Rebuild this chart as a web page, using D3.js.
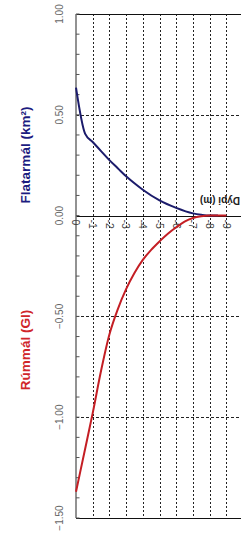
<!DOCTYPE html>
<html><head><meta charset="utf-8">
<script src="https://cdn.jsdelivr.net/npm/d3@7"></script>
<style>body{margin:0;background:#fff}svg{display:block}</style>
</head><body>
<script>
const depths = [0, -0.55, -1, -1.5, -2, -2.5, -3, -3.5, -4, -5, -6, -7, -7.5, -8, -8.5];
const areaVals = [0.635, 0.405, 0.365, 0.32, 0.275, 0.235, 0.195, 0.16, 0.128, 0.075, 0.038, 0.011, 0.004, 0.0, 0.0];
const volDepths = [0, -0.5, -1, -1.5, -2, -2.5, -3, -3.5, -4, -4.5, -5, -5.5, -6, -6.5, -7, -7.5, -8, -9];
const volVals = [-1.37, -1.175, -0.98, -0.77, -0.59, -0.465, -0.365, -0.285, -0.22, -0.17, -0.128, -0.09, -0.058, -0.03, -0.012, -0.003, 0, 0];
const valueTicks = [1, 0.5, 0, -0.5, -1, -1.5];
const depthTicks = [0, -1, -2, -3, -4, -5, -6, -7, -8, -9];
const gridDepths = [-1, -2, -3, -4, -5, -6, -7, -8, -9, -10];
const gridValues = [0.5, -0.5, -1];

const W = 241, H = 538;
const svg = d3.select("body").append("svg").attr("width", W).attr("height", H);
const x = d3.scaleLinear().domain([0, -10]).range([76, 243]);
const y = d3.scaleLinear().domain([1, -1.5]).range([14, 518]);
const x0 = x(0), xEnd = W + 5;
const FONT = "Liberation Sans, Arial, sans-serif";

// vertical dashed grid
svg.append("g").selectAll("line").data(gridDepths).join("line")
  .attr("x1", d => Math.round(x(d)) + 0.5).attr("x2", d => Math.round(x(d)) + 0.5)
  .attr("y1", y(1)).attr("y2", y(-1.5))
  .attr("stroke", "#222").attr("stroke-width", 1).attr("stroke-dasharray", "2,2");
// horizontal dashed grid
svg.append("g").selectAll("line").data(gridValues).join("line")
  .attr("x1", x0).attr("x2", xEnd)
  .attr("y1", d => Math.round(y(d)) + 0.5).attr("y2", d => Math.round(y(d)) + 0.5)
  .attr("stroke", "#222").attr("stroke-width", 1).attr("stroke-dasharray", "3,2");
// top, bottom borders and zero line
[1, -1.5, 0].forEach(v => {
  svg.append("line").attr("x1", x0).attr("x2", xEnd)
    .attr("y1", Math.round(y(v)) + 0.5).attr("y2", Math.round(y(v)) + 0.5)
    .attr("stroke", "#111").attr("stroke-width", 1.2);
});
// left spine
svg.append("line").attr("x1", x0).attr("x2", x0).attr("y1", y(1)).attr("y2", y(-1.5))
  .attr("stroke", "#777").attr("stroke-width", 1.6);
// minor ticks
svg.append("g").selectAll("line").data(d3.range(-15, 11).map(i => i / 10)).join("line")
  .attr("x1", x0).attr("x2", x0 + 3.5)
  .attr("y1", d => y(d)).attr("y2", d => y(d))
  .attr("stroke", "#555").attr("stroke-width", 1);

// value tick labels
svg.append("g").selectAll("text").data(valueTicks).join("text")
  .attr("transform", d => `translate(63,${y(d)}) rotate(-90)`)
  .attr("text-anchor", "middle")
  .attr("font-family", FONT).attr("font-size", 10)
  .attr("fill", "#666").text(d3.format(".2f"));

// depth tick labels
svg.append("g").selectAll("text").data(depthTicks).join("text")
  .attr("transform", d => `translate(${x(d)},${y(0) + 4}) rotate(90)`)
  .attr("text-anchor", "start").attr("dy", "0.35em")
  .attr("font-family", FONT).attr("font-size", 10.5)
  .attr("fill", "#444").text(d => d === 0 ? "0" : String(d));

// lines
const line = d3.line().x(d => x(d[0])).y(d => y(d[1])).curve(d3.curveMonotoneX);
svg.append("path").datum(depths.map((d, i) => [d, areaVals[i]]))
  .attr("d", line).attr("fill", "none").attr("stroke", "#1b1b6b").attr("stroke-width", 2);
svg.append("path").datum(volDepths.map((d, i) => [d, volVals[i]]))
  .attr("d", line).attr("fill", "none").attr("stroke", "#c41e24").attr("stroke-width", 2);

// axis titles
svg.append("text").attr("transform", `translate(30,155) rotate(-90)`)
  .attr("text-anchor", "middle").attr("font-family", FONT)
  .attr("font-size", 13.5).attr("font-weight", "bold").attr("fill", "#1c1c80")
  .text("Flatarmál (km²)");
svg.append("text").attr("transform", `translate(30,350) rotate(-90)`)
  .attr("text-anchor", "middle").attr("font-family", FONT)
  .attr("font-size", 13.5).attr("font-weight", "bold").attr("fill", "#d0262a")
  .text("Rúmmál (Gl)");
svg.append("text").attr("transform", `translate(240,197) rotate(180)`)
  .attr("text-anchor", "start").attr("font-family", FONT)
  .attr("font-size", 10).attr("font-weight", "bold").attr("fill", "#222")
  .text("Dýpi (m)");
</script>
</body></html>
